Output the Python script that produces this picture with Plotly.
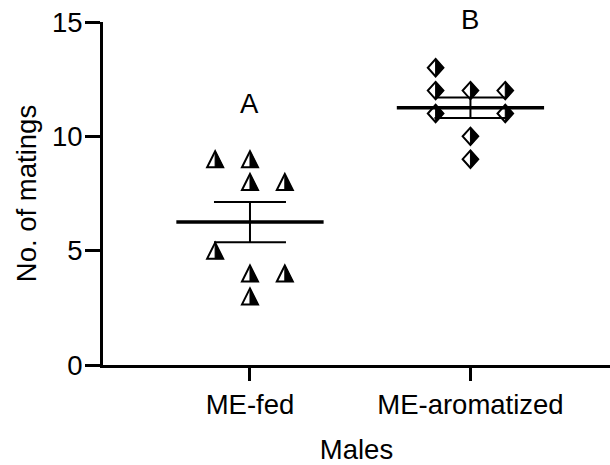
import numpy as np
import plotly.graph_objects as go

# Number of matings per male, by treatment group
groups = ["ME-fed", "ME-aromatized"]
fed_matings = [9, 9, 8, 8, 5, 4, 4, 3]
arom_matings = [13, 12, 12, 12, 11, 11, 10, 9]
# column of each point inside its group's scatter (-1 left, 0 centre, +1 right)
fed_slots = [-1, 0, 0, 1, -1, 0, 1, 0]
arom_slots = [-1, -1, 0, 1, -1, 1, 0, 0]
group_letters = ["A", "B"]
letter_heights = [11.43, 15.0]
letter_shift = [0, 3]
y_ticks = [0, 5, 10, 15]

FONT = dict(family="Liberation Sans, Arial, sans-serif", size=27.5, color="black")
SLOT_W = 0.158      # spacing between scatter columns (x units)
MEAN_HALF = 0.334   # half width of the mean line (x units)

# half-filled glyphs in pixel units: outline, then the black right half
TRI_OUT = "M 0,8 L 8,-8 L -8,-8 Z"
TRI_HALF = "M 0,8 L 8,-8 L 0,-8 Z"
DIA_OUT = "M 0,8.7 L 7.8,0 L 0,-8.7 L -7.8,0 Z"
DIA_HALF = "M 0,8.7 L 7.8,0 L 0,-8.7 Z"

series = [
    (fed_matings, fed_slots, TRI_OUT, TRI_HALF),
    (arom_matings, arom_slots, DIA_OUT, DIA_HALF),
]

fig = go.Figure()
shapes = []
annotations = []

for gi, (vals, slots, out_path, half_path) in enumerate(series):
    xc = gi + 1
    xs = [xc + s * SLOT_W for s in slots]
    # data points (glyphs are drawn as pixel-sized shapes anchored on them)
    fig.add_trace(go.Scatter(
        x=xs, y=vals, mode="markers", name=groups[gi],
        marker=dict(size=14, color="rgba(0,0,0,0)"),
        showlegend=False,
    ))
    for x, y in zip(xs, vals):
        common = dict(type="path", xref="x", yref="y",
                      xsizemode="pixel", ysizemode="pixel",
                      xanchor=x, yanchor=y, layer="below")
        shapes.append(dict(common, path=out_path, fillcolor="white",
                           line=dict(color="black", width=2)))
        shapes.append(dict(common, path=half_path, fillcolor="black",
                           line=dict(color="black", width=1)))

    arr = np.array(vals, dtype=float)
    mean = arr.mean()
    sem = arr.std(ddof=1) / np.sqrt(len(arr))

    # mean line
    fig.add_trace(go.Scatter(
        x=[xc - MEAN_HALF, xc + MEAN_HALF], y=[mean, mean], mode="lines",
        line=dict(color="black", width=3.5), showlegend=False, hoverinfo="skip",
    ))
    # SEM bar with caps
    fig.add_trace(go.Scatter(
        x=[xc], y=[mean], mode="markers",
        marker=dict(size=1, color="rgba(0,0,0,0)"),
        error_y=dict(type="data", array=[sem], symmetric=True,
                     color="black", thickness=2, width=36),
        showlegend=False, hoverinfo="skip",
    ))

    annotations.append(dict(
        x=xc, y=letter_heights[gi], xref="x", yref="y", yshift=letter_shift[gi],
        text=group_letters[gi], showarrow=False,
        xanchor="center", yanchor="middle", font=FONT,
    ))

fig.update_layout(
    width=610, height=465,
    margin=dict(l=103, r=0, t=22, b=100),
    paper_bgcolor="white", plot_bgcolor="white",
    font=FONT,
    shapes=shapes,
    annotations=annotations,
    xaxis=dict(
        range=[1 / 3, 2.633],
        tickvals=[1, 2], ticktext=groups,
        ticks="outside", ticklen=13, tickwidth=3, tickcolor="black",
        showline=True, linewidth=3, linecolor="black",
        showgrid=False, zeroline=False,
        title=dict(text="Males", font=FONT, standoff=22),
        tickfont=FONT,
    ),
    yaxis=dict(
        range=[0, 15],
        tickvals=y_ticks,
        ticks="outside", ticklen=15, tickwidth=3, tickcolor="black",
        ticklabelstandoff=-3,
        showline=True, linewidth=3, linecolor="black",
        showgrid=False, zeroline=False,
        title=dict(text="No. of matings", font=FONT, standoff=8),
        tickfont=FONT,
    ),
)

fig.write_html("out.html")
